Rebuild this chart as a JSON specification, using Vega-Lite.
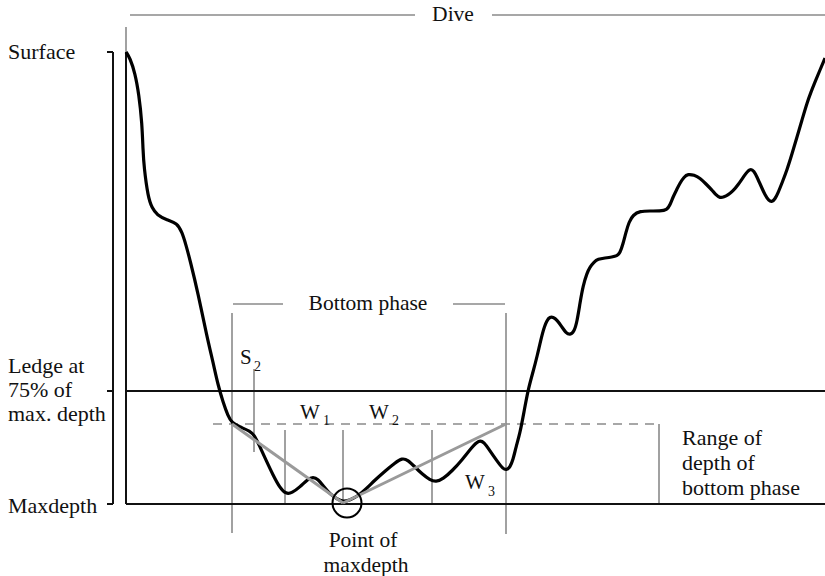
{
  "$schema": "https://vega.github.io/schema/vega-lite/v6.json",
  "width": 825,
  "height": 576,
  "autosize": {"type": "none"},
  "padding": 0,
  "background": "white",
  "config": {"view": {"stroke": null}},
  "datasets": {
    "curve": [
      {"x":126,"y":52},{"x":130,"y":58},{"x":135,"y":73},{"x":139,"y":95},{"x":142,"y":123},{"x":143,"y":150},{"x":144,"y":167},{"x":148,"y":197},{"x":152,"y":208},{"x":157,"y":215},{"x":167,"y":220},{"x":177,"y":223},{"x":182,"y":232},{"x":186,"y":245},{"x":190,"y":260},{"x":198,"y":293},{"x":207,"y":337},{"x":213,"y":362},{"x":218,"y":385},{"x":223,"y":402},{"x":228,"y":416},{"x":232,"y":423},{"x":240,"y":427},{"x":250,"y":431},{"x":255,"y":436},{"x":260,"y":447},{"x":266,"y":460},{"x":273,"y":475},{"x":280,"y":488},{"x":286,"y":494},{"x":292,"y":493},{"x":300,"y":487},{"x":308,"y":479},{"x":313,"y":477},{"x":318,"y":479},{"x":324,"y":487},{"x":330,"y":494},{"x":337,"y":499},{"x":343,"y":502},{"x":350,"y":500},{"x":358,"y":496},{"x":366,"y":489},{"x":375,"y":480},{"x":385,"y":471},{"x":395,"y":463},{"x":402,"y":458},{"x":408,"y":460},{"x":415,"y":467},{"x":422,"y":474},{"x":430,"y":480},{"x":436,"y":482},{"x":443,"y":479},{"x":452,"y":471},{"x":462,"y":460},{"x":472,"y":447},{"x":479,"y":440},{"x":484,"y":442},{"x":490,"y":451},{"x":497,"y":461},{"x":503,"y":469},{"x":507,"y":470},{"x":510,"y":467},{"x":513,"y":460},{"x":516,"y":447},{"x":520,"y":433},{"x":524,"y":412},{"x":528,"y":390},{"x":533,"y":372},{"x":537,"y":357},{"x":543,"y":330},{"x":547,"y":320},{"x":550,"y":317},{"x":553,"y":317},{"x":557,"y":320},{"x":562,"y":327},{"x":566,"y":333},{"x":570,"y":335},{"x":574,"y":332},{"x":577,"y":322},{"x":580,"y":303},{"x":583,"y":286},{"x":587,"y":273},{"x":590,"y":267},{"x":594,"y":262},{"x":598,"y":259},{"x":605,"y":258},{"x":612,"y":257},{"x":617,"y":256},{"x":620,"y":253},{"x":623,"y":244},{"x":626,"y":232},{"x":629,"y":222},{"x":633,"y":215},{"x":640,"y":211},{"x":650,"y":211},{"x":660,"y":211},{"x":667,"y":210},{"x":670,"y":205},{"x":673,"y":197},{"x":677,"y":189},{"x":680,"y":183},{"x":684,"y":177},{"x":688,"y":174},{"x":694,"y":175},{"x":700,"y":178},{"x":706,"y":184},{"x":712,"y":190},{"x":716,"y":195},{"x":720,"y":198},{"x":724,"y":197},{"x":728,"y":195},{"x":733,"y":191},{"x":738,"y":185},{"x":744,"y":176},{"x":750,"y":168},{"x":754,"y":171},{"x":757,"y":177},{"x":761,"y":186},{"x":765,"y":195},{"x":769,"y":201},{"x":772,"y":202},{"x":775,"y":199},{"x":778,"y":193},{"x":782,"y":183},{"x":787,"y":170},{"x":792,"y":154},{"x":797,"y":137},{"x":802,"y":120},{"x":807,"y":103},{"x":811,"y":92},{"x":815,"y":82},{"x":820,"y":70},{"x":825,"y":58}
    ],
    "segments": [
      {"x":113,"y":52,"x2":113,"y2":504,"kind":"black"},
      {"x":107,"y":52,"x2":113,"y2":52,"kind":"black"},
      {"x":107,"y":391,"x2":113,"y2":391,"kind":"black"},
      {"x":107,"y":504,"x2":113,"y2":504,"kind":"black"},
      {"x":126,"y":52,"x2":126,"y2":504,"kind":"black"},
      {"x":126,"y":391,"x2":825,"y2":391,"kind":"black"},
      {"x":126,"y":504,"x2":825,"y2":504,"kind":"black"},
      {"x":130,"y":15,"x2":415,"y2":15,"kind":"gray"},
      {"x":492,"y":15,"x2":825,"y2":15,"kind":"gray"},
      {"x":126,"y":27,"x2":126,"y2":52,"kind":"gray"},
      {"x":233,"y":304,"x2":283,"y2":304,"kind":"gray"},
      {"x":453,"y":304,"x2":505,"y2":304,"kind":"gray"},
      {"x":232,"y":313,"x2":232,"y2":533,"kind":"gray"},
      {"x":506,"y":313,"x2":506,"y2":534,"kind":"gray"},
      {"x":254,"y":369,"x2":254,"y2":452,"kind":"gray"},
      {"x":285,"y":430,"x2":285,"y2":504,"kind":"gray"},
      {"x":343,"y":430,"x2":343,"y2":504,"kind":"gray"},
      {"x":432,"y":430,"x2":432,"y2":504,"kind":"gray"},
      {"x":659,"y":424,"x2":659,"y2":504,"kind":"gray"},
      {"x":213,"y":424,"x2":659,"y2":424,"kind":"dash"},
      {"x":232,"y":424,"x2":343,"y2":503,"kind":"thick"},
      {"x":343,"y":503,"x2":506,"y2":424,"kind":"thick"}
    ],
    "circle": [{"x":347,"y":503}],
    "leftText": [
      {"x":8,"y":52,"label":"Surface"},
      {"x":8,"y":366,"label":"Ledge at"},
      {"x":8,"y":390,"label":"75% of"},
      {"x":8,"y":414,"label":"max. depth"},
      {"x":8,"y":506,"label":"Maxdepth"},
      {"x":682,"y":438,"label":"Range of"},
      {"x":682,"y":463,"label":"depth of"},
      {"x":682,"y":488,"label":"bottom phase"}
    ],
    "letterText": [
      {"x":240,"y":358,"label":"S"},
      {"x":300,"y":413,"label":"W"},
      {"x":369,"y":413,"label":"W"},
      {"x":465,"y":483,"label":"W"}
    ],
    "centerText": [
      {"x":453,"y":15,"label":"Dive"},
      {"x":368,"y":304,"label":"Bottom phase"},
      {"x":363,"y":541,"label":"Point of"},
      {"x":366,"y":566,"label":"maxdepth"}
    ],
    "subText": [
      {"x":254,"y":367,"label":"2"},
      {"x":323,"y":421,"label":"1"},
      {"x":392,"y":421,"label":"2"},
      {"x":488,"y":492,"label":"3"}
    ]
  },
  "layer": [
    {
      "data": {"name": "segments"},
      "transform": [{"filter": "datum.kind === 'gray'"}],
      "mark": {"type": "rule", "color": "#8a8a8a", "strokeWidth": 1.6},
      "encoding": {
        "x": {"field": "x", "type": "quantitative", "scale": {"domain": [0, 825], "nice": false, "zero": false}, "axis": null},
        "y": {"field": "y", "type": "quantitative", "scale": {"domain": [0, 576], "nice": false, "zero": false, "reverse": true}, "axis": null},
        "x2": {"field": "x2"},
        "y2": {"field": "y2"}
      }
    },
    {
      "data": {"name": "segments"},
      "transform": [{"filter": "datum.kind === 'dash'"}],
      "mark": {"type": "rule", "color": "#8a8a8a", "strokeWidth": 1.6, "strokeDash": [9, 7]},
      "encoding": {
        "x": {"field": "x", "type": "quantitative"},
        "y": {"field": "y", "type": "quantitative"},
        "x2": {"field": "x2"},
        "y2": {"field": "y2"}
      }
    },
    {
      "data": {"name": "segments"},
      "transform": [{"filter": "datum.kind === 'black'"}],
      "mark": {"type": "rule", "color": "#111111", "strokeWidth": 2},
      "encoding": {
        "x": {"field": "x", "type": "quantitative"},
        "y": {"field": "y", "type": "quantitative"},
        "x2": {"field": "x2"},
        "y2": {"field": "y2"}
      }
    },
    {
      "data": {"name": "curve"},
      "mark": {"type": "line", "color": "#000000", "strokeWidth": 3.2, "interpolate": "basis"},
      "encoding": {
        "x": {"field": "x", "type": "quantitative"},
        "y": {"field": "y", "type": "quantitative"}
      }
    },
    {
      "data": {"name": "segments"},
      "transform": [{"filter": "datum.kind === 'thick'"}],
      "mark": {"type": "rule", "color": "#9a9a9a", "strokeWidth": 3},
      "encoding": {
        "x": {"field": "x", "type": "quantitative"},
        "y": {"field": "y", "type": "quantitative"},
        "x2": {"field": "x2"},
        "y2": {"field": "y2"}
      }
    },
    {
      "data": {"name": "circle"},
      "mark": {"type": "point", "shape": "circle", "filled": false, "size": 841, "stroke": "#000000", "strokeWidth": 2, "opacity": 1},
      "encoding": {
        "x": {"field": "x", "type": "quantitative"},
        "y": {"field": "y", "type": "quantitative"}
      }
    },
    {
      "data": {"name": "leftText"},
      "mark": {"type": "text", "align": "left", "baseline": "middle", "font": "Times New Roman, Liberation Serif, DejaVu Serif, serif", "fontSize": 22, "color": "#111111"},
      "encoding": {
        "x": {"field": "x", "type": "quantitative"},
        "y": {"field": "y", "type": "quantitative"},
        "text": {"field": "label"}
      }
    },
    {
      "data": {"name": "letterText"},
      "mark": {"type": "text", "align": "left", "baseline": "middle", "font": "Times New Roman, Liberation Serif, DejaVu Serif, serif", "fontSize": 21, "color": "#111111"},
      "encoding": {
        "x": {"field": "x", "type": "quantitative"},
        "y": {"field": "y", "type": "quantitative"},
        "text": {"field": "label"}
      }
    },
    {
      "data": {"name": "centerText"},
      "mark": {"type": "text", "align": "center", "baseline": "middle", "font": "Times New Roman, Liberation Serif, DejaVu Serif, serif", "fontSize": 21.5, "color": "#111111"},
      "encoding": {
        "x": {"field": "x", "type": "quantitative"},
        "y": {"field": "y", "type": "quantitative"},
        "text": {"field": "label"}
      }
    },
    {
      "data": {"name": "subText"},
      "mark": {"type": "text", "align": "left", "baseline": "middle", "font": "Times New Roman, Liberation Serif, DejaVu Serif, serif", "fontSize": 14, "color": "#111111"},
      "encoding": {
        "x": {"field": "x", "type": "quantitative"},
        "y": {"field": "y", "type": "quantitative"},
        "text": {"field": "label"}
      }
    }
  ]
}
